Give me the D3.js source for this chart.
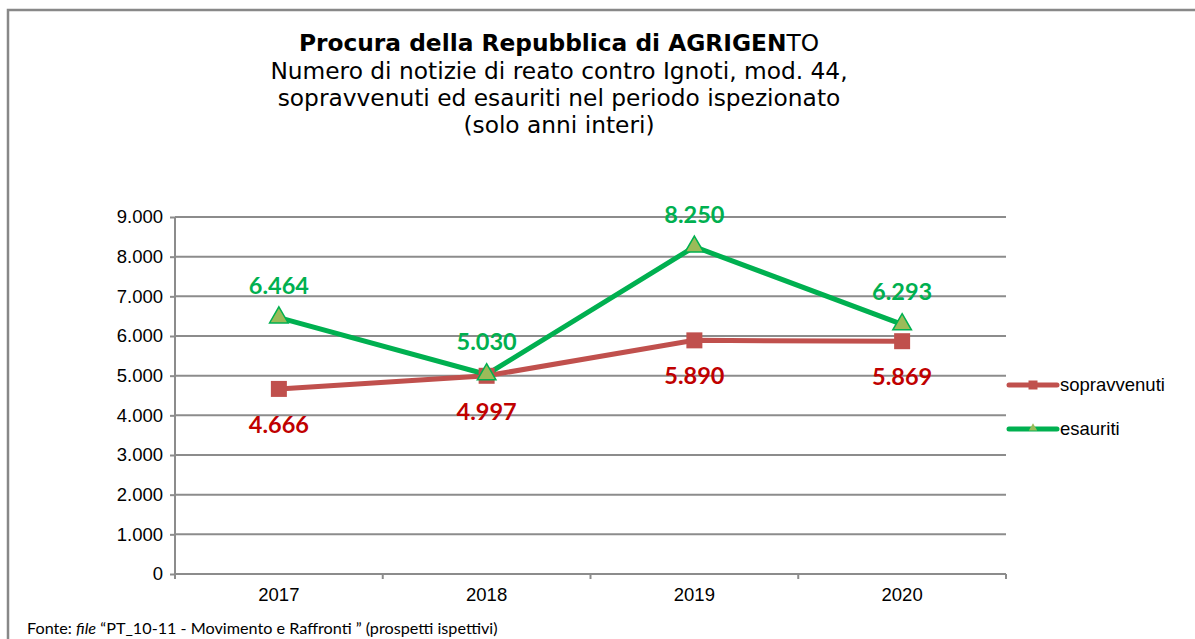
<!DOCTYPE html>
<html><head><meta charset="utf-8">
<script src="https://cdn.jsdelivr.net/npm/d3@7"></script>
<style>body{margin:0;background:#fff}</style>
</head><body>
<svg id="c" width="1195" height="639"></svg>
<script>
const years = ["2017","2018","2019","2020"];
const sopravvenuti = [4666, 4997, 5890, 5869];
const esauriti = [6464, 5030, 8250, 6293];
const yTicks = [0,1000,2000,3000,4000,5000,6000,7000,8000,9000];
const seriesNames = ["sopravvenuti","esauriti"];

const svg = d3.select("#c");
const W=1195,H=639;
const m={l:175,r:1006,t:217,b:574};
const x=d3.scaleBand().domain(years).range([m.l,m.r]);
const y=d3.scaleLinear().domain([0,9000]).range([m.b,m.t]);
const fmt=v=>d3.format(",")(v).replace(/,/g,".");

// border
svg.append("path").attr("d",`M8,${H} L8,10 L${W},10`).attr("fill","none").attr("stroke","#888").attr("stroke-width",2.5);

// title
const t=svg.append("text").attr("x",559).attr("text-anchor","middle").attr("font-family","DejaVu Sans, Verdana").attr("font-size",23.3).attr("fill","#000");
const l1=t.append("tspan").attr("x",559).attr("y",51);
l1.append("tspan").attr("font-weight","bold").text("Procura della Repubblica di AGRIGEN");
l1.append("tspan").text("TO");
t.append("tspan").attr("x",559).attr("y",79).text("Numero di notizie di reato contro Ignoti, mod. 44,");
t.append("tspan").attr("x",559).attr("y",106).text("sopravvenuti ed esauriti nel periodo ispezionato");
t.append("tspan").attr("x",559).attr("y",133).text("(solo anni interi)");

// grid
svg.append("g").selectAll("line").data(yTicks.filter(d=>d>0)).join("line")
 .attr("x1",m.l).attr("x2",m.r).attr("y1",d=>y(d)).attr("y2",d=>y(d))
 .attr("stroke","#8c8c8c").attr("stroke-width",2);

// y axis
const ya=svg.append("g").attr("transform",`translate(${m.l},0)`)
 .call(d3.axisLeft(y).tickValues(yTicks).tickFormat(fmt).tickSize(5).tickPadding(7));
ya.select(".domain").attr("stroke","#8c8c8c").attr("stroke-width",2).attr("d",`M0,${m.t}V${m.b}`);
ya.selectAll(".tick line").attr("stroke","#8c8c8c").attr("stroke-width",2);
ya.selectAll("text").attr("font-family","Liberation Sans, Arial").attr("font-size",18.5).attr("fill","#000");

// x axis
const xa=svg.append("g").attr("transform",`translate(0,${m.b})`)
 .call(d3.axisBottom(x).tickSize(0).tickPadding(14));
xa.select(".domain").attr("stroke","#8c8c8c").attr("stroke-width",2).attr("d",`M${m.l},0H${m.r}`);
xa.selectAll("text").attr("font-family","Liberation Sans, Arial").attr("font-size",18.5).attr("fill","#000");
const bounds=[...years.map(d=>x(d)), m.r];
svg.append("g").selectAll("line").data(bounds).join("line")
 .attr("x1",d=>d).attr("x2",d=>d).attr("y1",m.b).attr("y2",m.b+5)
 .attr("stroke","#8c8c8c").attr("stroke-width",2);

const cx=d=>x(d)+x.bandwidth()/2;
const line=d3.line().x((d,i)=>cx(years[i])).y(d=>y(d));

svg.append("path").datum(sopravvenuti).attr("d",line).attr("fill","none").attr("stroke","#C0504D").attr("stroke-width",5);
svg.append("path").datum(esauriti).attr("d",line).attr("fill","none").attr("stroke","#00B050").attr("stroke-width",5);

const sq=d3.symbol().type(d3.symbolSquare).size(256);
const tri=d3.symbol().type(d3.symbolTriangle).size(150);
svg.append("g").selectAll("path").data(sopravvenuti).join("path")
 .attr("d",sq).attr("transform",(d,i)=>`translate(${cx(years[i])},${y(d)})`).attr("fill","#C0504D");
svg.append("g").selectAll("path").data(esauriti).join("path")
 .attr("d",tri).attr("transform",(d,i)=>`translate(${cx(years[i])},${y(d)})`).attr("fill","#9BBB59").attr("stroke","#00B050").attr("stroke-width",1.5);

// labels
const lf="Lato, Carlito, Calibri, sans-serif";
svg.append("g").selectAll("text").data(esauriti).join("text")
 .attr("x",(d,i)=>cx(years[i])).attr("y",d=>y(d)-24).attr("text-anchor","middle")
 .attr("font-family",lf).attr("font-weight","bold").attr("font-size",23.5).attr("fill","#00B050").text(fmt);
svg.append("g").selectAll("text").data(sopravvenuti).join("text")
 .attr("x",(d,i)=>cx(years[i])).attr("y",d=>y(d)+44).attr("text-anchor","middle")
 .attr("font-family",lf).attr("font-weight","bold").attr("font-size",23.5).attr("fill","#C00000").text(fmt);

// legend
const lg=svg.append("g");
const ly=[385,429];
lg.append("line").attr("x1",1009).attr("x2",1057).attr("y1",ly[0]).attr("y2",ly[0]).attr("stroke","#C0504D").attr("stroke-width",5).attr("stroke-linecap","round");
lg.append("path").attr("d",d3.symbol().type(d3.symbolSquare).size(81)).attr("transform",`translate(1033,${ly[0]})`).attr("fill","#C0504D");
lg.append("line").attr("x1",1009).attr("x2",1057).attr("y1",ly[1]).attr("y2",ly[1]).attr("stroke","#00B050").attr("stroke-width",5).attr("stroke-linecap","round");
lg.append("path").attr("d",d3.symbol().type(d3.symbolTriangle).size(30)).attr("transform",`translate(1033,${ly[1]-1})`).attr("fill","#9BBB59");
lg.selectAll("text").data(seriesNames).join("text").attr("x",1060).attr("y",(d,i)=>ly[i]+6)
 .attr("font-family","Liberation Sans, Arial").attr("font-size",18.5).attr("fill","#000").text(d=>d);

// footer
const f=svg.append("text").attr("x",27).attr("y",634).attr("font-family",lf).attr("font-size",16.2).attr("fill","#000");
f.append("tspan").text("Fonte: ");
f.append("tspan").attr("font-style","italic").text("file");
f.append("tspan").text(" “PT_10-11 - Movimento e Raffronti ” (prospetti ispettivi)");
</script>
</body></html>
